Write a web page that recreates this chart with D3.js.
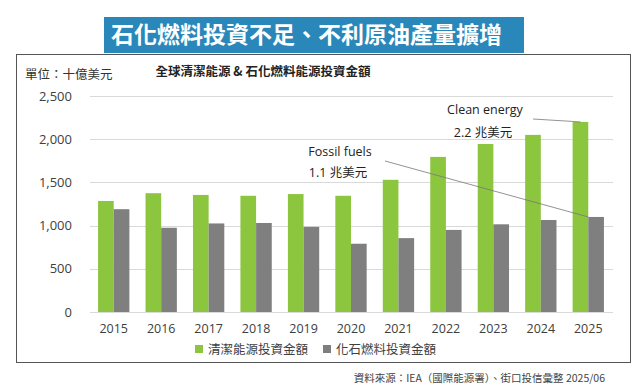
<!DOCTYPE html>
<meta charset="utf-8">
<style>
body { margin: 0; background: #fff; }
svg { display: block; font-family: "Open Sans", "Noto Sans CJK TC", sans-serif; }
.cjk { font-family: "Noto Sans CJK TC", sans-serif; }
</style>
<body>
<script src="https://d3js.org/d3.v7.min.js"></script>
<script>
'use strict';

// data (billion USD)
const years = ["2015", "2016", "2017", "2018", "2019", "2020", "2021", "2022", "2023", "2024", "2025"];
const cleanEnergy = [1285, 1375, 1355, 1345, 1365, 1345, 1530, 1795, 1945, 2050, 2200];
const fossilFuels = [1190, 975, 1025, 1030, 985, 790, 855, 950, 1015, 1065, 1100];
const yTicks = [0, 500, 1000, 1500, 2000, 2500];
const seriesNames = ["清潔能源投資金額", "化石燃料投資金額"];

const W = 643, H = 390;
const plot = {left: 90, right: 612, top: 96, bottom: 312};
const green = "#8cc63f", grey = "#7f7f7f";

const svg = d3.select("body").append("svg")
    .attr("width", W).attr("height", H);

// header banner
svg.append("rect")
    .attr("x", 104).attr("y", 17).attr("width", 420).attr("height", 36)
    .attr("fill", "#2a87ba");
svg.append("text").attr("class", "cjk")
    .attr("x", 111).attr("y", 35).attr("dy", "0.36em")
    .attr("fill", "#fff").attr("font-size", 23).attr("font-weight", "bold")
    .text("石化燃料投資不足、不利原油產量擴增");

// chart frame
svg.append("rect")
    .attr("x", 16.5).attr("y", 54.5).attr("width", 614).attr("height", 308)
    .attr("fill", "none").attr("stroke", "#555").attr("stroke-width", 1);

const x = d3.scaleBand().domain(years)
    .range([plot.left, plot.right])
    .paddingInner(0.34).paddingOuter(0.17);
const xs = d3.scaleBand().domain([0, 1]).range([0, x.bandwidth()]);
const y = d3.scaleLinear().domain([0, 2500]).range([plot.bottom, plot.top]);

// gridlines
svg.append("g").selectAll("line").data(yTicks).join("line")
    .attr("x1", plot.left).attr("x2", plot.right + 1)
    .attr("y1", d => Math.round(y(d)) + 0.5).attr("y2", d => Math.round(y(d)) + 0.5)
    .attr("stroke", "#d9d9d9");

// y axis labels
const yAxis = svg.append("g")
    .attr("transform", `translate(${plot.left - 15},0)`)
    .call(d3.axisLeft(y).tickValues(yTicks).tickSize(0).tickFormat(d3.format(",")));
yAxis.select(".domain").remove();
yAxis.selectAll("text")
    .attr("font-family", "'Open Sans', sans-serif")
    .attr("font-size", 13).attr("fill", "#404040");

// x axis labels
const xAxis = svg.append("g")
    .attr("transform", `translate(0,${plot.bottom + 9})`)
    .call(d3.axisBottom(x).tickSize(0));
xAxis.select(".domain").remove();
xAxis.selectAll("text")
    .attr("font-family", "'Open Sans', sans-serif")
    .attr("font-size", 12.5).attr("fill", "#404040");

// bars
const series = [cleanEnergy, fossilFuels];
const colors = [green, grey];
series.forEach((vals, i) => {
  svg.append("g").selectAll("rect").data(vals).join("rect")
      .attr("x", (d, j) => x(years[j]) + xs(i))
      .attr("y", d => y(d))
      .attr("width", xs.bandwidth())
      .attr("height", d => y(0) - y(d))
      .attr("fill", colors[i]);
});

// titles
svg.append("text").attr("class", "cjk")
    .attr("x", 263).attr("y", 72).attr("dy", "0.35em")
    .attr("text-anchor", "middle").attr("font-size", 12.5).attr("font-weight", "bold")
    .attr("fill", "#222")
    .text("全球清潔能源 & 石化燃料能源投資金額");
svg.append("text").attr("class", "cjk")
    .attr("x", 25).attr("y", 75).attr("dy", "0.35em")
    .attr("font-size", 12.5).attr("fill", "#333")
    .text("單位：十億美元");

// annotations
const last = years[years.length - 1];
const ann = svg.append("g").attr("fill", "#222").attr("font-size", 12.5)
    .attr("text-anchor", "middle");
ann.append("text").attr("x", 485).attr("y", 110).attr("dy", "0.35em")
    .attr("font-family", "'Open Sans', sans-serif").text("Clean energy");
ann.append("text").attr("x", 483).attr("y", 133).attr("dy", "0.35em")
    .text("2.2 兆美元");
ann.append("text").attr("x", 340).attr("y", 152).attr("dy", "0.35em")
    .attr("font-family", "'Open Sans', sans-serif").text("Fossil fuels");
ann.append("text").attr("x", 338).attr("y", 173).attr("dy", "0.35em")
    .text("1.1 兆美元");

svg.append("line")
    .attr("x1", 533).attr("y1", 119)
    .attr("x2", x(last) + xs(0) + xs.bandwidth() / 2).attr("y2", y(cleanEnergy[10]))
    .attr("stroke", "#777").attr("stroke-width", 0.8);
svg.append("line")
    .attr("x1", 385).attr("y1", 161)
    .attr("x2", x(last) + xs(1)).attr("y2", y(fossilFuels[10]))
    .attr("stroke", "#777").attr("stroke-width", 0.8);

// legend
const legend = svg.append("g").attr("font-size", 12.5).attr("fill", "#404040");
[195, 323].forEach((lx, i) => {
  legend.append("rect").attr("x", lx).attr("y", 345).attr("width", 8).attr("height", 8)
      .attr("fill", colors[i]);
  legend.append("text").attr("class", "cjk")
      .attr("x", lx + 13).attr("y", 349.5).attr("dy", "0.35em")
      .text(seriesNames[i]);
});

// source
svg.append("text").attr("class", "cjk")
    .attr("x", 605).attr("y", 378).attr("dy", "0.35em")
    .attr("text-anchor", "end").attr("font-size", 10.5).attr("fill", "#444")
    .text("資料來源：IEA（國際能源署）、街口投信彙整 2025/06");
</script>
</body>
